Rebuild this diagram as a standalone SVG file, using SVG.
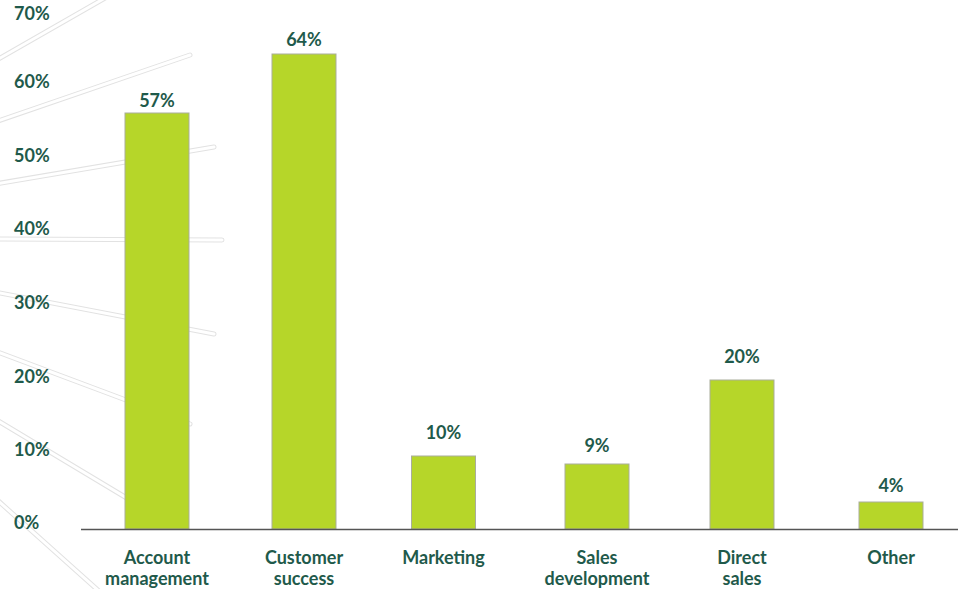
<svg xmlns="http://www.w3.org/2000/svg" width="961" height="589" viewBox="0 0 961 589">
<style>
.t{font-family:Lato,"Liberation Sans",sans-serif;font-weight:700;font-size:18px;fill:#1f5a4b}
.c{text-anchor:middle}
.bar{fill:#b6d629;stroke:#a9ad9c;stroke-width:1}
.deco1{stroke:#e2e2e2;stroke-width:5;stroke-linecap:round;fill:none}
.deco2{stroke:#ffffff;stroke-width:3;stroke-linecap:round;fill:none}
</style>
<rect width="961" height="589" fill="#ffffff"/>
<g id="decoration">
<g class="deco1">
<line x1="-5" y1="61" x2="105" y2="-2"/>
<line x1="-5" y1="122" x2="190" y2="55"/>
<line x1="-5" y1="184" x2="214" y2="147"/>
<line x1="-5" y1="239" x2="222" y2="240"/>
<line x1="-5" y1="292" x2="214" y2="334"/>
<line x1="-5" y1="351" x2="190" y2="424"/>
<line x1="-5" y1="419" x2="130" y2="500"/>
<line x1="-5" y1="498" x2="100" y2="592"/>
</g>
<g class="deco2">
<line x1="-5" y1="61" x2="105" y2="-2"/>
<line x1="-5" y1="122" x2="190" y2="55"/>
<line x1="-5" y1="184" x2="214" y2="147"/>
<line x1="-5" y1="239" x2="222" y2="240"/>
<line x1="-5" y1="292" x2="214" y2="334"/>
<line x1="-5" y1="351" x2="190" y2="424"/>
<line x1="-5" y1="419" x2="130" y2="500"/>
<line x1="-5" y1="498" x2="100" y2="592"/>
</g>
</g>
<g id="y-axis">
<text class="t" x="14" y="20">70%</text>
<text class="t" x="14" y="88">60%</text>
<text class="t" x="14" y="162">50%</text>
<text class="t" x="14" y="235">40%</text>
<text class="t" x="14" y="309">30%</text>
<text class="t" x="14" y="383">20%</text>
<text class="t" x="14" y="456">10%</text>
<text class="t" x="14" y="529">0%</text>
</g>
<g id="bar-account">
<rect class="bar" x="125" y="113" width="64" height="416"/>
<text class="t c" x="157" y="107">57%</text>
<text class="t c" x="157" y="564">Account</text>
<text class="t c" x="157" y="585">management</text>
</g>
<g id="bar-customer">
<rect class="bar" x="272" y="54" width="64" height="475"/>
<text class="t c" x="304" y="46">64%</text>
<text class="t c" x="304" y="564">Customer</text>
<text class="t c" x="304" y="585">success</text>
</g>
<g id="bar-marketing">
<rect class="bar" x="411.5" y="456" width="64" height="73"/>
<text class="t c" x="443.5" y="439">10%</text>
<text class="t c" x="443.5" y="564">Marketing</text>
</g>
<g id="bar-sales-dev">
<rect class="bar" x="565" y="464" width="64" height="65"/>
<text class="t c" x="597" y="452">9%</text>
<text class="t c" x="597" y="564">Sales</text>
<text class="t c" x="597" y="585">development</text>
</g>
<g id="bar-direct">
<rect class="bar" x="710" y="380" width="64" height="149"/>
<text class="t c" x="742" y="363">20%</text>
<text class="t c" x="742" y="564">Direct</text>
<text class="t c" x="742" y="585">sales</text>
</g>
<g id="bar-other">
<rect class="bar" x="859" y="502" width="64" height="27"/>
<text class="t c" x="891" y="492">4%</text>
<text class="t c" x="891" y="564">Other</text>
</g>
<g id="connectors">
<line x1="81" y1="529.5" x2="958" y2="529.5" stroke="#555555" stroke-width="1.5"/>
</g>
</svg>
